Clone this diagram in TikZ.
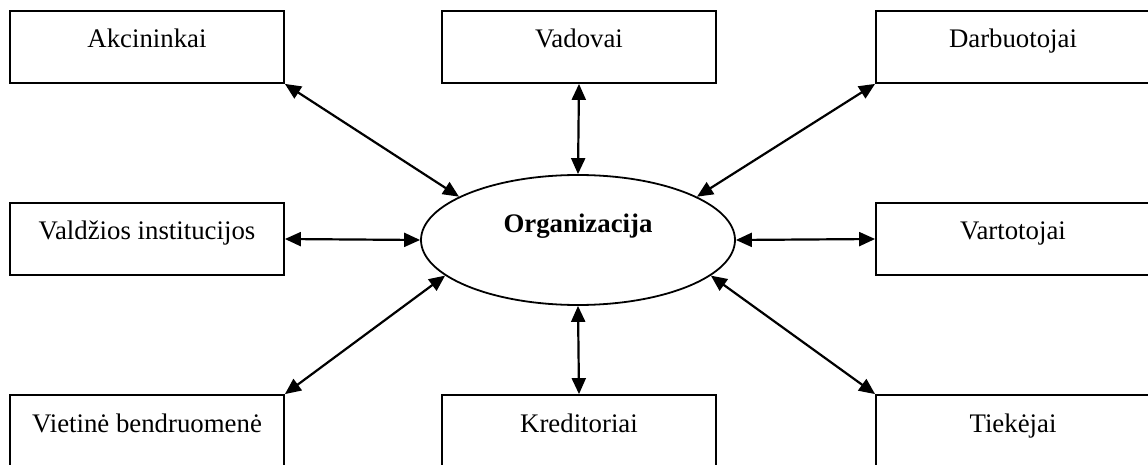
\documentclass[tikz,border=0pt]{standalone}
\usepackage{fontspec}
\setmainfont{Liberation Serif}
\usetikzlibrary{arrows.meta,shapes.geometric}
\begin{document}
\begin{tikzpicture}[x=0.5pt,y=-0.5pt,
    party/.style={draw,line width=0.9pt,inner sep=0pt,minimum width=137pt,minimum height=36pt,
      text height=18.5pt,text depth=17.5pt,font=\fontsize{13.4}{15}\selectfont},
    link/.style={{Triangle[length=8pt,width=7pt]}-{Triangle[length=8pt,width=7pt]},line width=1.1pt}]
    \useasboundingbox (0,0) rectangle (1148,465);

    \node[draw,ellipse,line width=0.9pt,minimum width=157pt,minimum height=65pt,inner sep=0pt,
      text height=9pt,text depth=16pt,font=\fontsize{13.4}{15}\selectfont\bfseries] (org) at (578,240) {Organizacija};

    \node[party] (akc) at (147,47) {Akcininkai};
    \node[party] (vad) at (579,47) {Vadovai};
    \node[party] (dar) at (1013,47) {Darbuotojai};
    \node[party] (val) at (147,239) {Valdžios institucijos};
    \node[party] (var) at (1013,239) {Vartotojai};
    \node[party] (vie) at (147,431) {Vietinė bendruomenė};
    \node[party] (kre) at (579,431) {Kreditoriai};
    \node[party] (tie) at (1013,431) {Tiekėjai};

    \draw[link] (akc.south east) -- (org.160);
    \draw[link] (vad.south) -- (org.north);
    \draw[link] (dar.south west) -- (org.20);
    \draw[link] (val.east) -- (org.west);
    \draw[link] (var.west) -- (org.east);
    \draw[link] (vie.north east) -- (org.195);
    \draw[link] (kre.north) -- (org.south);
    \draw[link] (tie.north west) -- (org.-15);
  \end{tikzpicture}
\end{document}
